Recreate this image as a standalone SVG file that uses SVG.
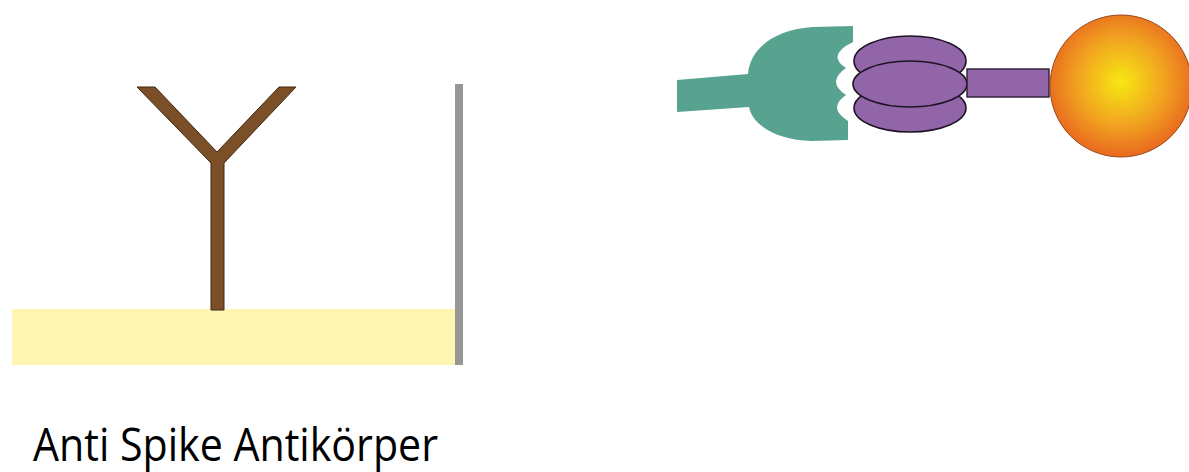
<svg xmlns="http://www.w3.org/2000/svg" width="1189" height="472" viewBox="0 0 1189 472">
  <style>
    .lobe { fill: #9265a8; stroke: #1e1324; stroke-width: 1.6; }
    .stalk { fill: #9265a8; stroke: #2a1c32; stroke-width: 1.4; }
    .label { font-family: "Open Sans", "Noto Sans", sans-serif; font-size: 46px; fill: #000; }
  </style>
  <defs>
    <radialGradient id="beadGrad" cx="0.5" cy="0.47" r="0.55">
      <stop offset="0" stop-color="#f7e812"/>
      <stop offset="0.55" stop-color="#f1a420"/>
      <stop offset="1" stop-color="#e8641f"/>
    </radialGradient>
  </defs>
  <rect width="1189" height="472" fill="#ffffff"/>

  <!-- surface with capture antibody -->
  <g id="surface">
    <rect x="12" y="309" width="443" height="56" fill="#fff5b2"/>
    <rect x="455" y="84" width="8" height="281" fill="#979797"/>
  </g>
  <g id="antibody">
    <polygon points="137,87 155,87 217,152 279,87 296,87 224,163 224,310 211,310 211,163"
             fill="#7b4f28" stroke="#3f2812" stroke-width="1"/>
  </g>

  <!-- spike protein bound to receptor with bead -->
  <g id="spike">
    <path d="M677,80 L748,74 C750,50 772,30 812,27 L853,26 L853,42
             Q826,55 846,68 Q826,82 846,95 Q827,108 848,121 L848,140
             L812,141 C775,140 752,124 749,107 L677,112 Z"
          fill="#58a390"/>
  </g>
  <g id="receptor">
    <ellipse class="lobe" cx="910" cy="61" rx="56" ry="25"/>
    <ellipse class="lobe" cx="910" cy="108" rx="56" ry="24"/>
    <ellipse class="lobe" cx="910" cy="84" rx="57" ry="23"/>
    <rect class="stalk" x="967" y="69" width="82" height="28"/>
  </g>
  <g id="bead">
    <circle cx="1121" cy="86" r="71" fill="url(#beadGrad)" stroke="#9a4a1c" stroke-width="1"/>
  </g>

  <g id="connectors"/>

  <text class="label" x="33" y="461" textLength="405" lengthAdjust="spacingAndGlyphs">Anti Spike Antikörper</text>
</svg>
